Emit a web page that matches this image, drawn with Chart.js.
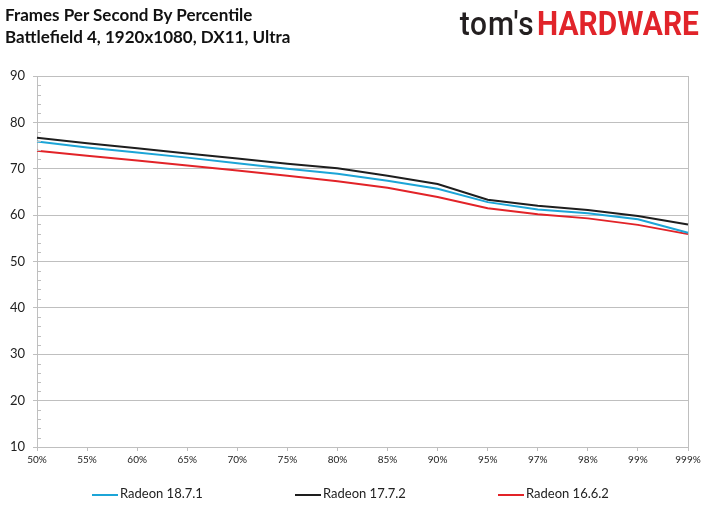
<!DOCTYPE html>
<html>
<head>
<meta charset="utf-8">
<script src="https://cdn.jsdelivr.net/npm/chart.js@4.4.1/dist/chart.umd.min.js"></script>
<style>
    html, body { margin: 0; padding: 0; background: #fff; }
    #wrap { position: relative; width: 709px; height: 531px; overflow: hidden; }
    #grafico { position: absolute; left: 0; top: 0; }
    .titulo { position: absolute; left: 5px; font-family: Lato, sans-serif; font-weight: bold; font-size: 17px; color: #111; white-space: nowrap; }
    #logo { position: absolute; right: 10px; top: 3px; white-space: nowrap; transform: scaleX(0.88); transform-origin: right top; }
    #logo .toms { font-family: Roboto, sans-serif; font-weight: 500; font-size: 34px; color: #231f20; letter-spacing: 1px; margin-right: 3px; }
    #logo .hw { font-family: Roboto, sans-serif; font-weight: bold; font-size: 34px; color: #e1242a; }
    #leyenda { position: absolute; top: 485px; left: 0; width: 709px; font-family: Lato, sans-serif; font-size: 13px; color: #222; }
    #leyenda .item { position: absolute; white-space: nowrap; }
    #leyenda .linea { display: inline-block; width: 26px; height: 2px; vertical-align: middle; margin-right: 2px; }
</style>
</head>
<body>
<div id="wrap">
    <canvas id="grafico" width="709" height="531"></canvas>
    <div class="titulo" style="top:4px">Frames Per Second By Percentile</div>
    <div class="titulo" style="top:26px">Battlefield 4, 1920x1080, DX11, Ultra</div>
    <div id="logo"><span class="toms">tom's</span><span class="hw">HARDWARE</span></div>
    <div id="leyenda"></div>
</div>
<script>
const percentiles = ['50%', '55%', '60%', '65%', '70%', '75%', '80%', '85%', '90%', '95%', '97%', '98%', '99%', '999%']
const radeon1871 = [75.9, 74.6, 73.5, 72.4, 71.2, 70.0, 68.9, 67.4, 65.7, 62.8, 61.2, 60.4, 59.1, 56.2]
const radeon1772 = [76.7, 75.5, 74.4, 73.3, 72.2, 71.1, 70.1, 68.5, 66.7, 63.3, 62.0, 61.1, 59.8, 58.0]
const radeon1662 = [73.9, 72.8, 71.8, 70.7, 69.6, 68.5, 67.3, 65.9, 63.9, 61.5, 60.2, 59.3, 57.9, 55.9]

const series = [
    { label: 'Radeon 18.7.1', data: radeon1871, color: 'rgb(28, 165, 215)' },
    { label: 'Radeon 17.7.2', data: radeon1772, color: 'rgb(30, 30, 30)' },
    { label: 'Radeon 16.6.2', data: radeon1662, color: 'rgb(226, 35, 40)' }
]

const gris = 'rgb(191, 191, 191)'

// ticks menores del eje Y (cada 2), hacia dentro del area
const ticksMenores = {
    id: 'ticksMenores',
    afterDraw(chart) {
        const y = chart.scales.y
        const ctx = chart.ctx
        const left = chart.chartArea.left
        ctx.save()
        ctx.strokeStyle = gris
        ctx.lineWidth = 1
        for (let v = y.min; v <= y.max; v += 2) {
            if (v % 10 === 0) continue
            const py = Math.round(y.getPixelForValue(v)) + 0.5
            ctx.beginPath()
            ctx.moveTo(left, py)
            ctx.lineTo(left + 4, py)
            ctx.stroke()
        }
        ctx.restore()
    }
}

const ctx = document.getElementById('grafico').getContext('2d')
new Chart(ctx, {
    type: 'line',
    data: {
        labels: percentiles,
        datasets: series.map(s => ({
            label: s.label,
            data: s.data,
            borderColor: s.color,
            backgroundColor: s.color,
            borderWidth: 2,
            pointRadius: 0,
            tension: 0,
            fill: false
        }))
    },
    options: {
        responsive: false,
        animation: false,
        layout: {
            padding: { top: 76, right: 21, bottom: 62, left: 0 }
        },
        plugins: {
            legend: { display: false },
            title: { display: false },
            tooltip: { enabled: false }
        },
        scales: {
            x: {
                offset: false,
                afterFit: s => { s.height = 22 },
                ticks: {
                    color: '#222',
                    font: { family: 'Lato', size: 10 },
                    padding: 3,
                    maxRotation: 0,
                    autoSkip: false
                },
                grid: {
                    color: c => c.index === percentiles.length - 1 ? gris : 'rgba(0,0,0,0)',
                    tickColor: gris,
                    tickLength: 4,
                    drawTicks: true
                },
                border: { color: gris }
            },
            y: {
                min: 10,
                max: 90,
                afterFit: s => { s.width = 37 },
                ticks: {
                    stepSize: 10,
                    color: '#222',
                    font: { family: 'Lato', size: 13 },
                    padding: 8
                },
                grid: {
                    color: gris,
                    tickColor: gris,
                    tickLength: 4
                },
                border: { color: gris }
            }
        }
    },
    plugins: [ticksMenores]
})

// leyenda
const leyenda = document.getElementById('leyenda')
const posiciones = [92, 295, 498]
series.forEach((s, i) => {
    const item = document.createElement('div')
    item.className = 'item'
    item.style.left = posiciones[i] + 'px'
    item.innerHTML = '<span class="linea" style="background:' + s.color + '"></span>' + s.label
    leyenda.appendChild(item)
})
</script>
</body>
</html>
